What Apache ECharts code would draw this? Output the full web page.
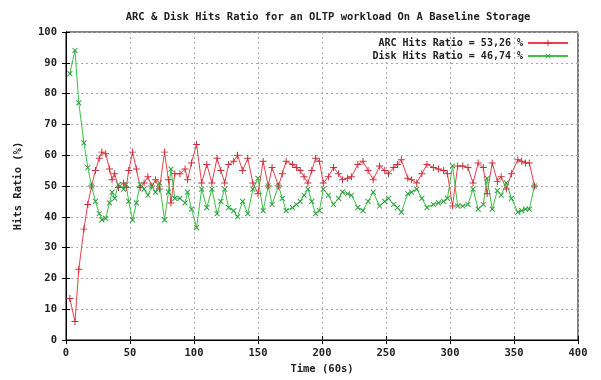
<!DOCTYPE html>
<html>
<head>
<meta charset="utf-8">
<title>ARC & Disk Hits Ratio</title>
<script src="https://cdn.jsdelivr.net/npm/echarts@6/dist/echarts.min.js"></script>
<style>
    html, body { margin: 0; padding: 0; background: #fff; }
    #chart { width: 601px; height: 380px; }
</style>
</head>
<body>
<div id="chart"></div>
<script>
    'use strict';

    var time = [3, 7, 10, 14, 17, 20, 23, 26, 28, 31, 34, 36, 38, 41, 45, 47, 49, 52, 55, 58,
        61, 64, 67, 70, 73, 77, 80, 82, 85, 89, 93, 95, 98, 102, 106, 110, 114, 118, 121, 124,
        127, 131, 134, 138, 142, 146, 150, 154, 158, 161, 166, 169, 172, 177, 180, 183, 186, 189, 192, 195,
        198, 201, 205, 209, 213, 216, 220, 223, 228, 232, 236, 240, 245, 249, 252, 256, 259, 262, 267, 270,
        274, 278, 282, 287, 291, 295, 298, 302, 306, 310, 314, 318, 322, 326, 329, 333, 337, 340, 344, 348,
        353, 356, 359, 362, 366];

    var arcHits = [13.5, 6, 23, 36, 44, 50, 55, 59, 61, 60.5, 55.5, 52, 54, 49.5, 51, 49.5, 55, 61, 55.5, 49.5,
        51, 53, 50, 52, 49, 61, 52, 44.5, 54, 54, 55.5, 52, 57.5, 63.5, 51, 57, 51, 59, 55, 51,
        57, 58, 60, 55, 59, 51, 47.5, 58, 50, 56, 50, 54, 58, 57, 56, 55, 53, 51, 55, 59,
        58, 51, 53, 56, 54, 52, 52.5, 53, 57, 58, 55, 52, 56.5, 55, 54, 56, 57, 58.5, 52.5, 52,
        51, 54, 57, 56, 55.5, 55, 54, 43.5, 56.5, 56.5, 56, 51, 57.5, 56, 47.5, 57.5, 51.5, 53, 49, 54,
        58.5, 58, 57.5, 57.5, 50];

    var diskHits = [86.5, 94, 77, 64, 56, 50, 45, 41, 39, 39.5, 44.5, 48, 46, 50.5, 49, 50.5, 45, 39, 44.5, 50.5,
        49, 47, 50, 48, 51, 39, 48, 55.5, 46, 46, 44.5, 48, 42.5, 36.5, 49, 43, 49, 41, 45, 49,
        43, 42, 40, 45, 41, 49, 52.5, 42, 50, 44, 50, 46, 42, 43, 44, 45, 47, 49, 45, 41,
        42, 49, 47, 44, 46, 48, 47.5, 47, 43, 42, 45, 48, 43.5, 45, 46, 44, 43, 41.5, 47.5, 48,
        49, 46, 43, 44, 44.5, 45, 46, 56.5, 43.5, 43.5, 44, 49, 42.5, 44, 52.5, 42.5, 48.5, 47, 51, 46,
        41.5, 42, 42.5, 42.5, 50];

    var arcName = 'ARC Hits Ratio = 53,26 %';
    var diskName = 'Disk Hits Ratio = 46,74 %';

    var mono = 'DejaVu Sans Mono';
    var plus = 'path://M0,4.3H10V5.7H0Z M4.3,0H5.7V10H4.3Z';

    function pairs(ys) {
        return ys.map(function (y, i) { return [time[i], y]; });
    }

    var gridLine = { show: true, lineStyle: { color: '#aaa', type: [2, 3], width: 1 } };
    var blackLine = { show: true, lineStyle: { color: '#000', width: 1 } };
    var labelFont = { fontFamily: mono, fontSize: 10.5, fontWeight: 'bold', color: '#222' };

    var option = {
        animation: false,
        backgroundColor: '#fff',
        title: {
            text: 'ARC & Disk Hits Ratio for an OLTP workload On A Baseline Storage',
            left: 323,
            textAlign: 'center',
            top: 7,
            textStyle: { fontFamily: mono, fontSize: 10.5, fontWeight: 'bold', color: '#222' }
        },
        legend: {
            orient: 'vertical',
            right: 27,
            top: 33,
            align: 'right',
            itemWidth: 40,
            itemHeight: 8,
            itemGap: 3,
            data: [arcName, diskName],
            textStyle: { fontFamily: mono, fontSize: 10, fontWeight: 'bold', color: '#222' }
        },
        grid: {
            left: 66,
            right: 23,
            top: 32,
            bottom: 31,
            show: true,
            borderColor: '#000',
            borderWidth: 1
        },
        xAxis: [{
            type: 'value',
            min: 0,
            max: 400,
            interval: 50,
            name: 'Time (60s)',
            nameLocation: 'middle',
            nameGap: 24,
            nameTextStyle: labelFont,
            axisLine: blackLine,
            axisTick: { inside: true, length: 4, lineStyle: { color: '#000' } },
            axisLabel: Object.assign({ margin: 8 }, labelFont),
            splitLine: gridLine
        }, {
            type: 'value',
            position: 'top',
            min: 0,
            max: 400,
            interval: 50,
            axisLine: blackLine,
            axisTick: { inside: true, length: 4, lineStyle: { color: '#000' } },
            axisLabel: { show: false },
            splitLine: { show: false }
        }],
        yAxis: [{
            type: 'value',
            min: 0,
            max: 100,
            interval: 10,
            name: 'Hits Ratio (%)',
            nameLocation: 'middle',
            nameGap: 42,
            nameTextStyle: labelFont,
            axisLine: blackLine,
            axisTick: { inside: true, length: 4, lineStyle: { color: '#000' } },
            axisLabel: Object.assign({ margin: 9 }, labelFont),
            splitLine: gridLine
        }, {
            type: 'value',
            position: 'right',
            min: 0,
            max: 100,
            interval: 10,
            axisLine: blackLine,
            axisTick: { inside: true, length: 4, lineStyle: { color: '#000' } },
            axisLabel: { show: false },
            splitLine: { show: false }
        }],
        series: [{
            name: arcName,
            type: 'line',
            data: pairs(arcHits),
            symbol: plus,
            symbolSize: 7,
            showAllSymbol: true,
            lineStyle: { color: '#e8404c', width: 1 },
            itemStyle: { color: '#c8303c' }
        }, {
            name: diskName,
            type: 'line',
            data: pairs(diskHits),
            symbol: plus,
            symbolSize: 7,
            symbolRotate: 45,
            showAllSymbol: true,
            lineStyle: { color: '#3cc048', width: 1 },
            itemStyle: { color: '#30a040' }
        }]
    };

    var chart = echarts.init(document.getElementById('chart'), null, { renderer: 'canvas' });
    chart.setOption(option);
</script>
</body>
</html>
